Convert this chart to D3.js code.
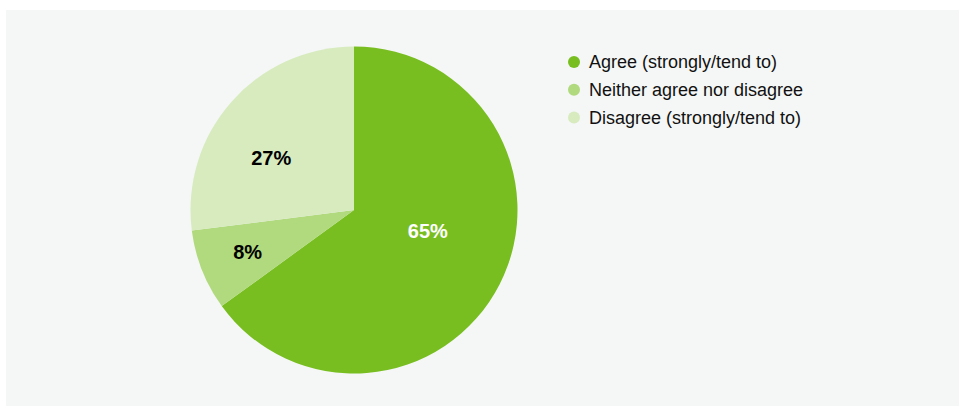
<!DOCTYPE html>
<html>
<head>
<meta charset="utf-8">
<script src="https://cdn.jsdelivr.net/npm/d3@7"></script>
<style>
  html, body { margin: 0; padding: 0; background: #ffffff; }
  svg { display: block; }
</style>
</head>
<body>
<svg id="chart" width="959" height="412"></svg>
<script>
// ---- Data ----
const categories = ["Agree (strongly/tend to)", "Neither agree nor disagree", "Disagree (strongly/tend to)"];
const values = [65, 8, 27];
const valueLabels = ["65%", "8%", "27%"];

// ---- Styles / layout ----
const colors = ["#78be20", "#b1d97d", "#d7ebbf"];
const labelColors = ["#ffffff", "#000000", "#000000"];
// label placement: fraction of radius and angle shift (degrees) from the slice mid-angle
const labelRadiusFrac = [0.47, 0.70, 0.60];
const labelAngleShift = [-11, 0, -9];

const W = 959, H = 412;
const svg = d3.select("#chart");

svg.append("rect")
  .attr("x", 6).attr("y", 10)
  .attr("width", W - 6).attr("height", 396)
  .attr("fill", "#f5f7f6");

const cx = 354, cy = 210, R = 163.5;

const pie = d3.pie().sort(null).value(d => d)(values);
const arc = d3.arc().innerRadius(0).outerRadius(R);
const color = d3.scaleOrdinal().domain(categories).range(colors);

const g = svg.append("g").attr("transform", `translate(${cx},${cy})`);

g.selectAll("path.slice")
  .data(pie)
  .join("path")
  .attr("class", "slice")
  .attr("d", arc)
  .attr("fill", (d, i) => color(categories[i]));

g.selectAll("text.lbl")
  .data(pie)
  .join("text")
  .attr("class", "lbl")
  .attr("transform", (d, i) => {
    const a = (d.startAngle + d.endAngle) / 2 + labelAngleShift[i] * Math.PI / 180;
    const r = R * labelRadiusFrac[i];
    return `translate(${r * Math.sin(a)},${-r * Math.cos(a)})`;
  })
  .attr("text-anchor", "middle")
  .attr("dy", "0.36em")
  .attr("font-family", "'Liberation Sans', Arial, Helvetica, sans-serif")
  .attr("font-weight", "bold")
  .attr("font-size", 20)
  .attr("fill", (d, i) => labelColors[i])
  .text((d, i) => valueLabels[i]);

// ---- Legend ----
const legendX = 574, legendY0 = 62, legendStep = 27.8;
const lg = svg.append("g");
const items = lg.selectAll("g.item")
  .data(categories)
  .join("g")
  .attr("class", "item")
  .attr("transform", (d, i) => `translate(${legendX},${legendY0 + i * legendStep})`);

items.append("circle")
  .attr("r", 6)
  .attr("fill", d => color(d));

items.append("text")
  .attr("x", 15)
  .attr("dy", "0.36em")
  .attr("font-family", "'Liberation Sans', Arial, Helvetica, sans-serif")
  .attr("font-size", 18)
  .attr("fill", "#111111")
  .text(d => d);
</script>
</body>
</html>
